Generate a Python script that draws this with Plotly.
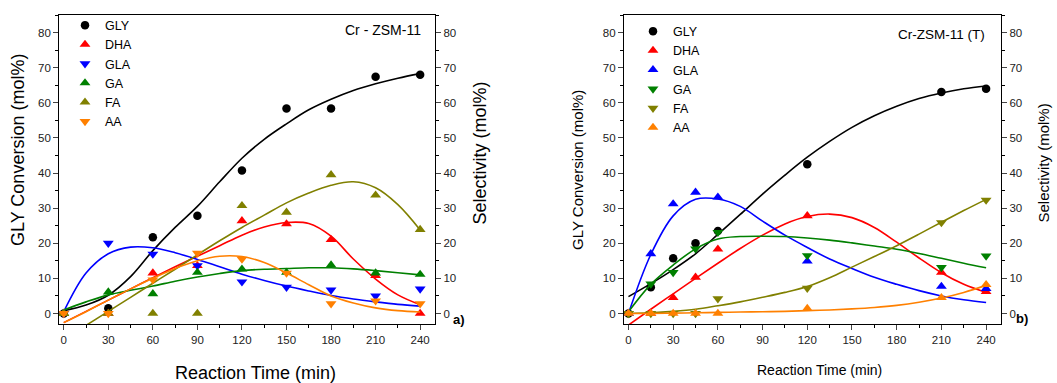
import plotly.graph_objects as go

W, H = 1057, 383

# ---------------- Panel a: Cr - ZSM-11 ----------------
a_t = [0, 30, 60, 90, 120, 150, 180, 210, 240]
a_gly = [0, 1.5, 21.7, 27.8, 40.7, 58.4, 58.4, 67.4, 68.0]
a_dha = [0, 0, 11.5, 13.6, 26.4, 25.5, 21.0, 10.8, 0]
a_gla = [0, 20.0, 16.9, 13.6, 9.0, 7.5, 6.7, 5.0, 7.0]
a_ga = [0, 6.1, 5.6, 11.7, 12.6, 11.7, 13.8, 11.5, 11.1]
a_fa = [0, 0, 0, 0, 30.7, 28.8, 39.5, 33.7, 23.9]
a_aa = [0, 0, 9.6, 17.2, 15.5, 11.5, 2.8, 3.6, 2.8]

# fitted curves, panel a
a_fit_t = [0, 15, 30, 45, 60, 75, 90, 105, 120, 135, 150, 165, 180, 195, 210, 225, 240]
a_fit_gly = [0.8, 2.4, 5.2, 10.5, 17.9, 24.5, 30.5, 37.5, 44.2, 49.6, 54.0, 58.0, 61.0, 63.5, 65.4, 67.0, 68.3]
a_fit_dha = [-2.6, 0.6, 3.8, 7.0, 10.2, 13.3, 16.3, 19.3, 22.3, 24.6, 25.9, 25.6, 22.0, 15.5, 9.8, 5.3, 2.5]
a_fit_gla = [0.5, 11.5, 17.0, 18.9, 18.7, 17.3, 15.4, 13.3, 11.2, 9.4, 7.8, 6.4, 5.1, 4.1, 3.3, 2.6, 2.1]
a_fit_ga = [1.0, 3.3, 5.3, 6.6, 7.8, 9.2, 10.4, 11.4, 12.2, 12.6, 12.8, 13.0, 13.0, 12.7, 12.2, 11.6, 11.0]
a_fit_fa_t = [15, 30, 45, 60, 75, 90, 105, 120, 135, 150, 165, 180, 195, 210, 225, 240]
a_fit_fa = [-3.4, 0.6, 4.6, 8.6, 12.6, 16.7, 20.7, 24.5, 28.0, 31.5, 34.3, 36.5, 37.5, 35.8, 31.0, 23.8]
a_fit_aa = [-2.6, 0.5, 3.8, 7.0, 10.0, 12.8, 15.0, 16.3, 16.2, 14.5, 11.5, 8.2, 5.0, 3.0, 1.6, 0.8, 0.4]

# ---------------- Panel b: Cr-ZSM-11 (T) ----------------
b_t = [0, 15, 30, 45, 60, 120, 210, 240]
b_gly = [0, 7.5, 15.7, 20.0, 23.5, 42.5, 63.1, 64.0]
b_dha = [0, 0, 4.5, 10.3, 18.3, 27.8, 11.7, 6.2]
b_gla = [0, 17.0, 31.2, 34.5, 33.1, 14.9, 7.7, 7.1]
b_ga = [0, 8.4, 11.7, 18.4, 23.1, 16.5, 13.1, 16.4]
b_fa = [0, 0, 0, 0, 4.2, 7.2, 25.9, 32.3]
b_aa = [0, 0, 0, 0, 0, 1.4, 4.5, 8.2]

b_fit_t = [0, 15, 30, 45, 60, 75, 90, 105, 120, 135, 150, 165, 180, 195, 210, 225, 240]
b_fit_gly = [4.8, 8.5, 12.5, 17.0, 22.5, 28.2, 34.0, 39.4, 44.5, 49.0, 53.0, 56.3, 59.0, 61.2, 62.8, 64.0, 64.8]
b_fit_dha = [-3.3, 1.2, 5.6, 10.0, 14.3, 18.5, 22.3, 25.5, 27.6, 28.3, 27.3, 24.5, 20.3, 15.8, 11.6, 8.3, 6.0]
b_fit_gla = [0, 16.8, 27.8, 32.5, 32.6, 30.5, 26.3, 22.3, 18.8, 15.5, 12.8, 10.3, 8.3, 6.5, 5.0, 3.9, 3.1]
b_fit_ga = [0.5, 8.3, 13.8, 18.4, 21.2, 21.9, 22.0, 21.9, 21.5, 20.9, 20.1, 19.2, 18.3, 17.1, 15.7, 14.3, 13.0]
b_fit_fa = [0, 0.2, 0.6, 1.2, 2.2, 3.3, 4.6, 6.0, 7.7, 10.2, 13.2, 16.2, 19.3, 22.6, 26.0, 29.3, 32.5]
b_fit_aa = [0, 0, 0.1, 0.2, 0.3, 0.4, 0.5, 0.6, 0.8, 1.0, 1.3, 1.7, 2.3, 3.2, 4.4, 6.0, 8.0]

BLACK, RED, BLUE, GREEN, OLIVE, ORANGE = "#000000", "#FF0000", "#0000FF", "#008000", "#808000", "#FF8000"
FONT = "Arial, Liberation Sans, sans-serif"

fig = go.Figure()


def add_series(name, t, y, ft, fy, color, symbol, xa, ya, legend):
    fig.add_trace(go.Scatter(x=ft, y=fy, mode="lines", line=dict(color=color, width=1.6, shape="spline", smoothing=1.0),
                             xaxis=xa, yaxis=ya, showlegend=False, hoverinfo="skip"))
    fig.add_trace(go.Scatter(x=t, y=y, mode="markers", name=name,
                             marker=dict(color=color, symbol=symbol, size=8.5 if symbol == "circle" else 9.5, line=dict(width=0)),
                             xaxis=xa, yaxis=ya, legend=legend, cliponaxis=False))


add_series("GLY", a_t, a_gly, a_fit_t, a_fit_gly, BLACK, "circle", "x", "y", "legend")
add_series("DHA", a_t, a_dha, a_fit_t, a_fit_dha, RED, "triangle-up", "x", "y2", "legend")
add_series("GLA", a_t, a_gla, a_fit_t, a_fit_gla, BLUE, "triangle-down", "x", "y2", "legend")
add_series("GA", a_t, a_ga, a_fit_t, a_fit_ga, GREEN, "triangle-up", "x", "y2", "legend")
add_series("FA", a_t, a_fa, a_fit_fa_t, a_fit_fa, OLIVE, "triangle-up", "x", "y2", "legend")
add_series("AA", a_t, a_aa, a_fit_t, a_fit_aa, ORANGE, "triangle-down", "x", "y2", "legend")

add_series("GLY", b_t, b_gly, b_fit_t, b_fit_gly, BLACK, "circle", "x2", "y3", "legend2")
add_series("DHA", b_t, b_dha, b_fit_t, b_fit_dha, RED, "triangle-up", "x2", "y4", "legend2")
add_series("GLA", b_t, b_gla, b_fit_t, b_fit_gla, BLUE, "triangle-up", "x2", "y4", "legend2")
add_series("GA", b_t, b_ga, b_fit_t, b_fit_ga, GREEN, "triangle-down", "x2", "y4", "legend2")
add_series("FA", b_t, b_fa, b_fit_t, b_fit_fa, OLIVE, "triangle-down", "x2", "y4", "legend2")
add_series("AA", b_t, b_aa, b_fit_t, b_fit_aa, ORANGE, "triangle-up", "x2", "y4", "legend2")

ydom = [1 - 324 / H, 1 - 15 / H]
tickfont = dict(family=FONT, size=11.5, color="#222")


def xax(dom, anchor):
    return dict(domain=dom, anchor=anchor, range=[-3, 250], tickvals=[0, 30, 60, 90, 120, 150, 180, 210, 240],
                ticks="outside", ticklen=5, tickwidth=1, showline=True, linewidth=1.3, linecolor="#000", mirror=True,
                showgrid=False, zeroline=False, tickfont=tickfont,
                minor=dict(ticks="outside", ticklen=3, dtick=15, tick0=0, tickcolor="#000"))


def yax(anchor, side, overlay=None):
    d = dict(domain=ydom, anchor=anchor, side=side, range=[-3, 85], tickvals=[0, 10, 20, 30, 40, 50, 60, 70, 80],
             ticks="outside", ticklen=5, tickwidth=1, showline=True, linewidth=1.3, linecolor="#000",
             showgrid=False, zeroline=False, tickfont=tickfont,
             minor=dict(ticks="outside", ticklen=3, dtick=5, tick0=0, tickcolor="#000"))
    if overlay:
        d["overlaying"] = overlay
    return d


LEGFONT = dict(family=FONT, size=12.5)
fig.update_layout(
    width=W, height=H, margin=dict(l=0, r=0, t=0, b=0),
    paper_bgcolor="white", plot_bgcolor="white",
    font=dict(family=FONT, color="#000"),
    xaxis=xax([59.3 / W, 435 / W], "y"),
    yaxis=yax("x", "left"),
    yaxis2=yax("x", "right", "y"),
    xaxis2=xax([624 / W, 1001 / W], "y3"),
    yaxis3=yax("x2", "left"),
    yaxis4=yax("x2", "right", "y3"),
    legend=dict(x=65 / W, y=1 - 10.5 / H, xanchor="left", yanchor="top", bgcolor="rgba(0,0,0,0)",
                font=LEGFONT, tracegroupgap=0, borderwidth=0),
    legend2=dict(x=633 / W, y=1 - 16.5 / H, xanchor="left", yanchor="top", bgcolor="rgba(0,0,0,0)",
                 font=LEGFONT, tracegroupgap=0, borderwidth=0),
)


def ann(text, px, py, size, angle=0, xanchor="center", bold=False):
    fig.add_annotation(text=f"<b>{text}</b>" if bold else text, x=px / W, y=1 - py / H, xref="paper", yref="paper",
                       showarrow=False, textangle=angle, xanchor=xanchor, yanchor="middle",
                       font=dict(family=FONT, size=size, color="#000"))


ann("GLY Conversion (mol%)", 17.5, 150.5, 18, -90)
ann("Selectivity (mol%)", 480, 153.5, 18, -90)
ann("Reaction Time (min)", 255.5, 373, 18)
ann("Cr - ZSM-11", 423, 30, 14, xanchor="right")
ann("a)", 451, 319, 13, xanchor="left", bold=True)

ann("GLY Conversion (mol%)", 577, 170, 15, -90)
ann("Selectivity (mol%)", 1043, 163.5, 15, -90)
ann("Reaction Time (min)", 819, 370, 14)
ann("Cr-ZSM-11 (T)", 987, 34.3, 13.5, xanchor="right")
ann("b)", 1014, 318, 13, xanchor="left", bold=True)

fig.write_html("out.html")
